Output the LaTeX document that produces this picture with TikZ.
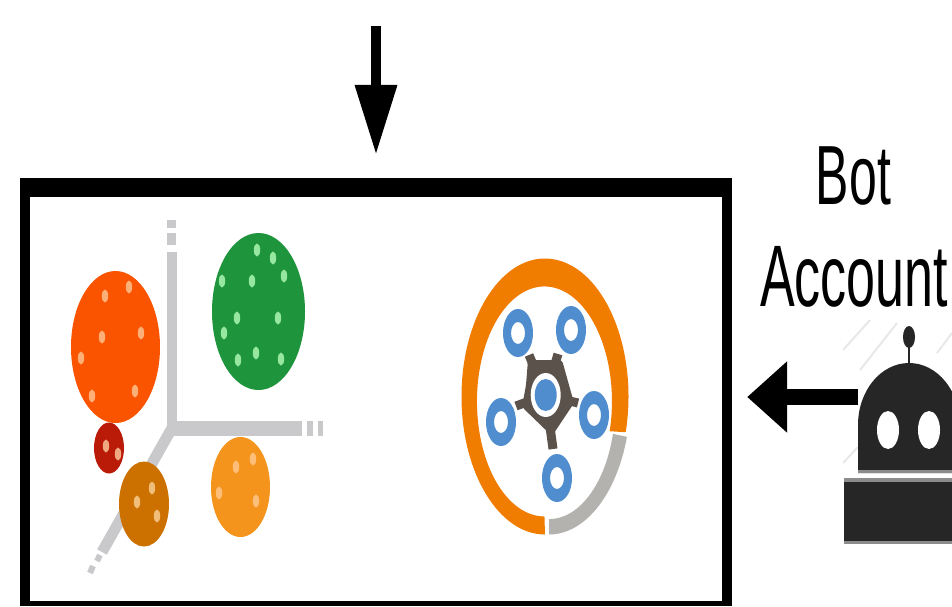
\documentclass[tikz,border=0pt]{standalone}
\usepackage{fontspec}
\setmainfont{Liberation Sans}
\usetikzlibrary{arrows.meta}
\definecolor{axisgrey}{HTML}{C9C9CB}
\definecolor{ringorange}{HTML}{F07C00}
\definecolor{ringgrey}{HTML}{B4B2AE}
\definecolor{hubdark}{HTML}{5C524C}
\definecolor{hubblue}{HTML}{4F8DCE}
\definecolor{robotdark}{HTML}{262626}
\definecolor{clusterorange}{RGB}{250,84,0}
\definecolor{clustergreen}{RGB}{30,148,60}
\definecolor{clusterred}{RGB}{186,26,8}
\definecolor{clusterbrown}{RGB}{204,112,0}
\definecolor{clusteramber}{RGB}{245,148,28}
\definecolor{dotorange}{RGB}{252,176,120}
\definecolor{dotgreen}{RGB}{150,232,160}
\definecolor{dotred}{RGB}{240,170,130}
\definecolor{dotbrown}{RGB}{240,190,120}
\definecolor{dotamber}{RGB}{252,190,120}
\tikzset{
  panelframe/.style={fill=black,rectangle,inner sep=0pt,minimum width=712pt,minimum height=428pt},
  panelinner/.style={fill=white,rectangle,inner sep=0pt,minimum width=692pt,minimum height=404pt},
  blockarrow/.style={line width=10pt,draw=black},
  axisline/.style={draw=axisgrey,line width=10pt},
  botlabel/.style={inner sep=0pt,text=black},
  hatch/.style={draw=black!9,line width=2pt}
}
\newcommand{\clusterdots}[2]{\foreach \px/\py in {#2}{\fill[#1] (\px,\py) ellipse[x radius=3.2pt,y radius=6.5pt];}}
\newcommand{\bluering}[2]{\fill[hubblue,even odd rule] (#1,#2) ellipse[x radius=15pt,y radius=24pt] (#1,#2) ellipse[x radius=7pt,y radius=11pt];}
\begin{document}
\begin{tikzpicture}[x=1pt,y=-1pt]
\useasboundingbox (0,0) rectangle (952,606);
\clip (0,0) rectangle (952,606);
\fill[white] (0,0) rectangle (952,606);

% panel
\node[panelframe] (panel) at (376,392) {};
\node[panelinner] (panelface) at (376,399) {};

% arrows
\coordinate (topin) at (376,26);
\coordinate (robotout) at (858,397);
\draw[blockarrow,-{Triangle[length=70pt,width=40pt]},shorten >=23pt] (topin) -- (topin |- panel.north);
\draw[blockarrow,line width=16pt,-{Triangle[length=40pt,width=69pt]},shorten >=15pt] (robotout) -- (robotout -| panel.east);

% axes
\draw[axisline] (172,252) -- (172,428);
\draw[axisline,line width=15pt] (172,428) -- (302,428);
\draw[axisline,line width=11pt] (172,428) -- (102,552);
\draw[axisline,line width=9pt] (171,220) -- (171,228) (171,233) -- (171,245);
\draw[axisline,line width=15pt] (307,428) -- (313,428) (318,428) -- (323,428);
\draw[axisline,line width=6pt] (100,555) -- (97,561) (93,566) -- (90,573);

% clusters
\fill[clusterorange] (115.5,347) ellipse[x radius=44.5pt,y radius=76pt];
\fill[clustergreen] (258.5,311.5) ellipse[x radius=46.5pt,y radius=78.5pt];
\fill[clusterred] (109,448) ellipse[x radius=15pt,y radius=25.5pt];
\fill[clusterbrown] (144,504) ellipse[x radius=25pt,y radius=42.5pt];
\fill[clusteramber] (240.5,487) ellipse[x radius=29.5pt,y radius=50pt];

\clusterdots{dotorange}{105/296,129/287,102/337,141/333,81/358,92/396,135/391}
\clusterdots{dotgreen}{257/250,273/258,222/281,252/281,284/276,237/318,278/318,224/333,256/353,238/360,281/359}
\clusterdots{dotred}{106/446,118/454}
\clusterdots{dotbrown}{152/488,137/502,157/516}
\clusterdots{dotamber}{253/459,236/467,219/493,256/501}

% ring
\fill[ringorange] (545,534.5)
  arc[start angle=90,end angle=375,x radius=83.5,y radius=138]
  -- ++(-16,-1)
  arc[start angle=375,end angle=90,x radius=67.5,y radius=115]
  -- cycle;
\fill[ringgrey] (549,534.5)
  arc[start angle=90,end angle=17,x radius=81.5,y radius=138]
  -- ++(-14,-3)
  arc[start angle=15,end angle=90,x radius=66,y radius=115]
  -- cycle;

% hub
\foreach \hx/\hy in {529/355,558/354,516/406,578/403,553/449}
  \draw[hubdark,line width=9pt] (545.7,395) -- (\hx,\hy);
\fill[hubdark,rounded corners=3pt] (528,360) -- (562,360) -- (569,385) -- (574,403) -- (552,436) -- (522,407) -- (526,385) -- cycle;
\fill[white] (545.7,395) ellipse[x radius=15pt,y radius=22pt];
\fill[hubblue] (545.7,395) ellipse[x radius=11pt,y radius=16pt];
\bluering{518}{333}
\bluering{571}{330}
\bluering{501}{422}
\bluering{594}{415}
\bluering{557}{478}

% robot
\draw[hatch] (843,350) -- (870,320) (860,370) -- (897,323) (937,353) -- (952,333) (843,463) -- (858,447);
\fill[robotdark] (909,337) ellipse[x radius=6pt,y radius=11pt];
\draw[robotdark,line width=2pt] (909,337) -- (909,365);
\fill[robotdark] (858,473) -- (858,425) arc[start angle=180,end angle=360,x radius=51,y radius=62] -- (960,473) -- cycle;
\fill[black!45] (858,470) rectangle (960,473);
\fill[white] (888,430) ellipse[x radius=11pt,y radius=19pt];
\fill[white] (929,430) ellipse[x radius=11pt,y radius=19pt];
\fill[black!45] (844,478) rectangle (960,482);
\fill[robotdark] (844,482) rectangle (960,541);
\fill[black!45] (844,541) rectangle (960,544);

% labels
\node[botlabel] (bot) at (853.5,176) {\scalebox{1}[1.68]{\fontsize{50}{50}\selectfont Bot}};
\node[botlabel] (account) at (854,277) {\scalebox{1}[1.68]{\fontsize{52}{52}\selectfont Account}};
\end{tikzpicture}
\end{document}
